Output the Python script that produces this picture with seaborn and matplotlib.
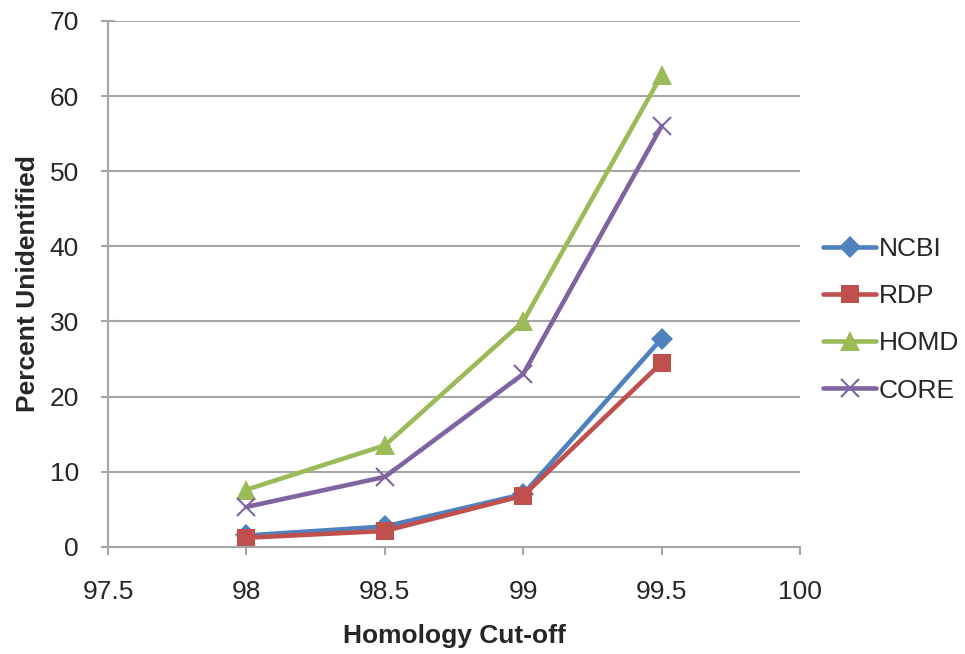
import matplotlib
matplotlib.use("Agg")
import matplotlib.pyplot as plt
import seaborn as sns
import pandas as pd

cutoffs = [98, 98.5, 99, 99.5]
ncbi = [1.5, 2.7, 7.0, 27.7]
rdp = [1.2, 2.1, 6.8, 24.5]
homd = [7.6, 13.5, 30.0, 62.8]
core = [5.3, 9.3, 23.0, 56.0]
series_names = ["NCBI", "RDP", "HOMD", "CORE"]
x_ticks = [97.5, 98, 98.5, 99, 99.5, 100]
y_ticks = [0, 10, 20, 30, 40, 50, 60, 70]

sns.set_theme(style="white")
plt.rcParams["font.family"] = ["Liberation Sans", "DejaVu Sans"]

rows = []
for name, vals in zip(series_names, [ncbi, rdp, homd, core]):
    for x, v in zip(cutoffs, vals):
        rows.append({"cutoff": x, "value": v, "series": name})
df = pd.DataFrame(rows)

colors = {"NCBI": "#4F81BD", "RDP": "#C0504D", "HOMD": "#9BBB59", "CORE": "#8064A2"}
markers = {"NCBI": "D", "RDP": "s", "HOMD": "^", "CORE": "x"}
msizes = {"NCBI": 11.5, "RDP": 13, "HOMD": 14, "CORE": 13}

fig = plt.figure(figsize=(9.65, 6.54), dpi=100)
ax = fig.add_axes([0.112, 0.164, 0.717, 0.804])

for name in series_names:
    sub = df[df.series == name]
    sns.lineplot(data=sub, x="cutoff", y="value", ax=ax, color=colors[name],
                 marker=markers[name], markersize=msizes[name], linewidth=3.3,
                 markeredgewidth=1.5 if name == "CORE" else 0,
                 markeredgecolor=colors[name], label=name)

ax.set_xlim(97.5, 100)
ax.set_ylim(0, 70)
ax.set_xticks(x_ticks)
ax.set_xticklabels([f"{t:g}" for t in x_ticks])
ax.set_yticks(y_ticks)
ax.yaxis.grid(True, color="#A6A6A6", linewidth=1.5)
ax.xaxis.grid(False)
for s in ["top", "right"]:
    ax.spines[s].set_visible(False)
for s in ["left", "bottom"]:
    ax.spines[s].set_color("#A6A6A6")
    ax.spines[s].set_linewidth(1.5)
ax.tick_params(axis="y", which="major", direction="inout", length=10, width=1.5,
               color="#A6A6A6", labelsize=19, pad=16, left=True)
ax.tick_params(axis="x", which="major", direction="out", length=6, width=1.5,
               color="#A6A6A6", labelsize=19, pad=18, bottom=True)
ax.set_xlabel("Homology Cut-off", fontsize=19, fontweight="bold", labelpad=14)
ax.set_ylabel("Percent Unidentified", fontsize=19, fontweight="bold", labelpad=7)

ax.get_legend().remove()
handles, labels = ax.get_legend_handles_labels()
fig.legend(handles, labels, loc="center left", bbox_to_anchor=(0.853, 0.511),
           frameon=False, fontsize=19, handlelength=2.0, handletextpad=0.1,
           labelspacing=0.88, borderaxespad=0, borderpad=0)

fig.savefig("out.png", dpi=100)
